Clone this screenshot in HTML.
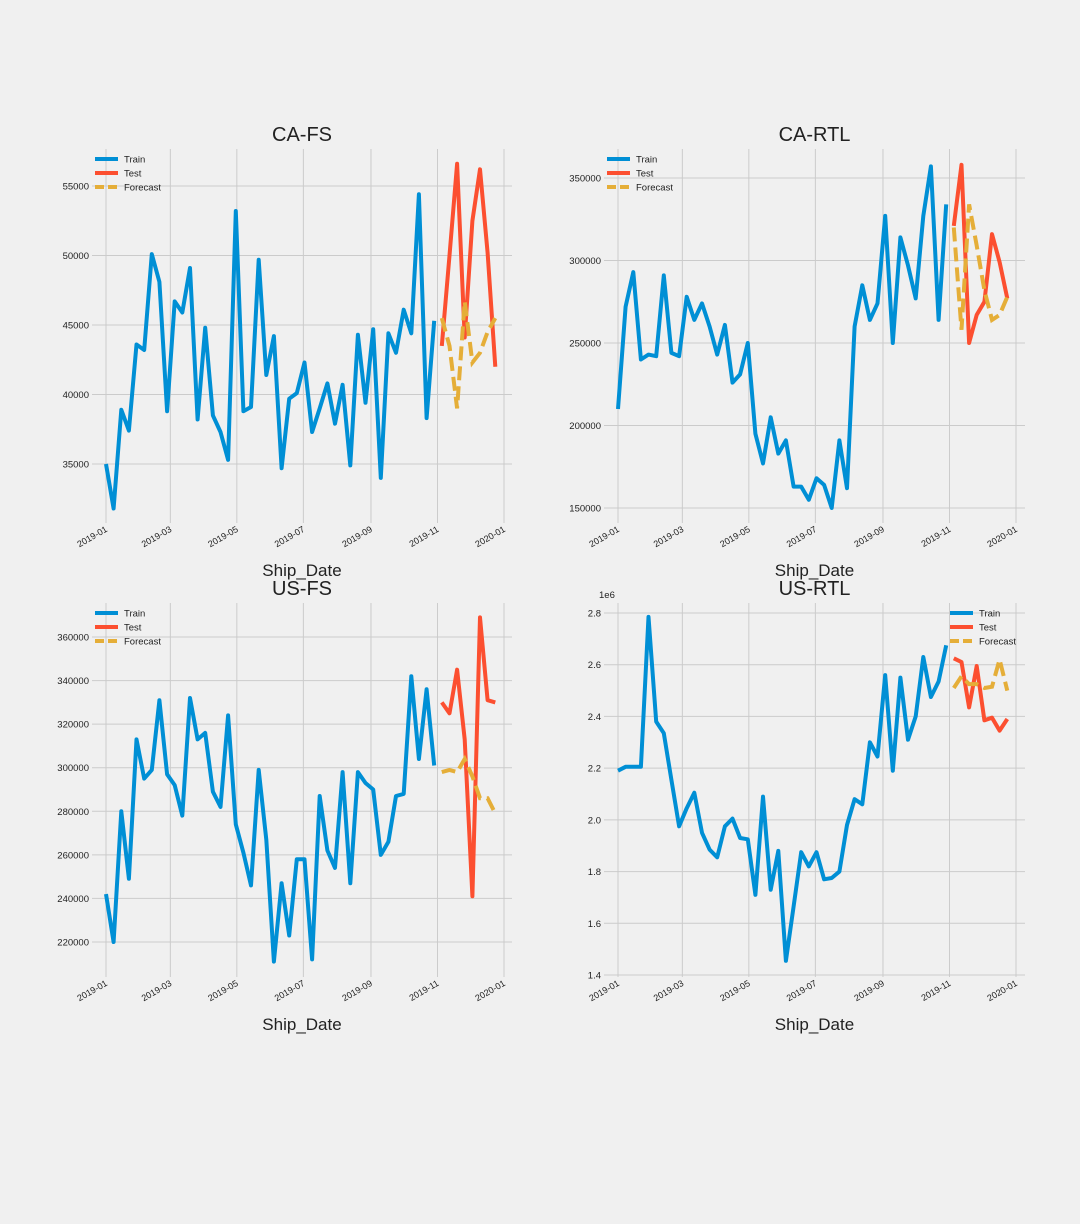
<!DOCTYPE html>
<html><head><meta charset="utf-8"><style>
body{margin:0;background:#f0f0f0;}
svg{display:block;font-family:"Liberation Sans","DejaVu Sans",sans-serif;}
</style></head><body>
<svg id="chart" width="1080" height="1224" viewBox="0 0 1080 1224">
<rect width="1080" height="1224" fill="#f0f0f0"/>
</svg>
<script>
const weeksTrain = 44;
const weeksTest = 8;
const xTickLabels = ["2019-01","2019-03","2019-05","2019-07","2019-09","2019-11","2020-01"];
const xTickDays = [0,59,120,181,243,304,365];
const caFsTrain = [35000,31800,38900,37400,43600,43200,50100,48100,38800,46700,45900,49100,38200,44800,38500,37300,35300,53200,38800,39100,49700,41400,44200,34700,39700,40100,42300,37300,39000,40800,37900,40700,34900,44300,39400,44700,34000,44400,43000,46100,44400,54400,38300,45300];
const caFsTest = [43500,50000,56600,44100,52500,56200,50200,42000];
const caFsForecast = [45500,43500,39000,46700,42300,43000,44500,45500];
const caRtlTrain = [210000,272000,293000,240000,243000,242000,291000,244000,242000,278000,264000,274000,260000,243000,261000,226000,231000,250000,195000,177000,205000,183000,191000,163000,163000,155000,168000,164000,150000,191000,162000,260000,285000,264000,274000,327000,250000,314000,297000,277000,327000,357000,264000,334000];
const caRtlTest = [321000,358000,250000,267000,275000,316000,299000,277000];
const caRtlForecast = [320000,258000,334000,309000,282000,264000,267000,278000];
const usFsTrain = [242000,220000,280000,249000,313000,295000,299000,331000,297000,292000,278000,332000,313000,316000,289000,282000,324000,274000,261000,246000,299000,267000,211000,247000,223000,258000,258000,212000,287000,262000,254000,298000,247000,298000,293000,290000,260000,266000,287000,288000,342000,304000,336000,301000];
const usFsTest = [330000,325000,345000,313000,241000,369000,331000,330000];
const usFsForecast = [298000,299000,298000,304000,296000,286000,286000,279000];
const usRtlTrain = [2.19,2.205,2.205,2.205,2.785,2.38,2.335,2.155,1.975,2.045,2.105,1.95,1.885,1.855,1.975,2.005,1.93,1.925,1.71,2.09,1.73,1.88,1.455,1.665,1.875,1.82,1.875,1.77,1.775,1.80,1.98,2.08,2.06,2.30,2.245,2.56,2.19,2.55,2.31,2.40,2.63,2.475,2.535,2.675];
const usRtlTest = [2.625,2.61,2.435,2.595,2.385,2.395,2.345,2.39];
const usRtlForecast = [2.51,2.555,2.525,2.525,2.51,2.515,2.62,2.50];
const caFsYTicks = [35000,40000,45000,50000,55000];
const caRtlYTicks = [150000,200000,250000,300000,350000];
const usFsYTicks = [220000,240000,260000,280000,300000,320000,340000,360000];
const usRtlYTicks = [1.4,1.6,1.8,2.0,2.2,2.4,2.6,2.8];

const NS="http://www.w3.org/2000/svg";
const svg=document.getElementById('chart');
function mk(tag,attrs,parent){const e=document.createElementNS(NS,tag);for(const k in attrs)e.setAttribute(k,attrs[k]);(parent||svg).appendChild(e);return e;}

const panels=[
 {title:"CA-FS",x0:92,x1:512,y0:149,y1:523,day0x:106,vA:35000,pA:464,vB:55000,pB:186,ticks:caFsYTicks,fmt:v=>String(v),train:caFsTrain,test:caFsTest,fc:caFsForecast,legendRight:false,name:"ca-fs"},
 {title:"CA-RTL",x0:604,x1:1025,y0:149,y1:523,day0x:618,vA:150000,pA:508,vB:350000,pB:178,ticks:caRtlYTicks,fmt:v=>String(v),train:caRtlTrain,test:caRtlTest,fc:caRtlForecast,legendRight:false,name:"ca-rtl"},
 {title:"US-FS",x0:92,x1:512,y0:603,y1:977,day0x:106,vA:220000,pA:942,vB:360000,pB:637,ticks:usFsYTicks,fmt:v=>String(v),train:usFsTrain,test:usFsTest,fc:usFsForecast,legendRight:false,name:"us-fs"},
 {title:"US-RTL",x0:604,x1:1025,y0:603,y1:977,day0x:618,vA:1.4,pA:975,vB:2.8,pB:613,ticks:usRtlYTicks,fmt:v=>v.toFixed(1),train:usRtlTrain,test:usRtlTest,fc:usRtlForecast,legendRight:true,name:"us-rtl",exp:"1e6"}
];
const pxPerDay=(504-106)/365;

panels.forEach(p=>{
 const g=mk('g',{});
 
 
 const xs=d=>p.day0x+d*pxPerDay;
 const ys=v=>p.pA+(v-p.vA)*(p.pB-p.pA)/(p.vB-p.vA);
 // grid
 p.ticks.forEach(t=>{
  const y=ys(t);
  mk('line',{x1:p.x0,x2:p.x1,y1:y,y2:y,stroke:'#cbcbcb','stroke-width':1},g);
  const tx=mk('text',{x:p.x0-3,y:y+3.5,'text-anchor':'end','font-size':9.5,fill:'#222'},g);
  tx.textContent=p.fmt(t);
  
  
 });
 xTickDays.forEach((d,i)=>{
  const x=xs(d);
  mk('line',{x1:x,x2:x,y1:p.y0,y2:p.y1,stroke:'#cbcbcb','stroke-width':1},g);
  const tx=mk('text',{x:x+2,y:p.y1+8,'text-anchor':'end','font-size':9,fill:'#222',transform:`rotate(-30 ${x+2} ${p.y1+8})`},g);
  tx.textContent=xTickLabels[i];
  
  
 });
 if(p.exp){const e=mk('text',{x:p.x0-5,y:p.y0-5,'font-size':9.5,fill:'#222'},g);e.textContent=p.exp;
  
  }
 const tt=mk('text',{x:(p.x0+p.x1)/2,y:p.y0-8,'text-anchor':'middle','font-size':20,fill:'#222'},g);
 tt.textContent=p.title;
 
 
 const xl=mk('text',{x:(p.x0+p.x1)/2,y:p.y1+53,'text-anchor':'middle','font-size':17,fill:'#222'},g);
 xl.textContent="Ship_Date";
 
 
 const path=(arr,off)=>arr.map((v,i)=>(i?'L':'M')+xs((i+off)*7).toFixed(1)+','+ys(v).toFixed(1)).join(' ');
 const l1=mk('path',{d:path(p.train,0),fill:'none',stroke:'#008fd5','stroke-width':4,'stroke-linejoin':'round'},g);
 
 
 const l2=mk('path',{d:path(p.test,weeksTrain),fill:'none',stroke:'#fc4f30','stroke-width':4,'stroke-linejoin':'round'},g);
 
 
 const l3=mk('path',{d:path(p.fc,weeksTrain),fill:'none',stroke:'#e5ae38','stroke-width':4,'stroke-dasharray':'14,6'},g);
 
 
 // legend
 const lx=p.legendRight?p.x1-75:p.x0+3, ly=p.y0+10;
 [["Train",'#008fd5',null],["Test",'#fc4f30',null],["Forecast",'#e5ae38','9,4']].forEach((it,i)=>{
  const y=ly+i*14;
  const a={x1:lx,x2:lx+23,y1:y,y2:y,stroke:it[1],'stroke-width':4};
  if(it[2])a['stroke-dasharray']=it[2];
  mk('line',a,g);
  const t=mk('text',{x:lx+29,y:y+3.5,'font-size':9.5,fill:'#222'},g);
  t.textContent=it[0];
  
  
 });
});
</script>
</body></html>
